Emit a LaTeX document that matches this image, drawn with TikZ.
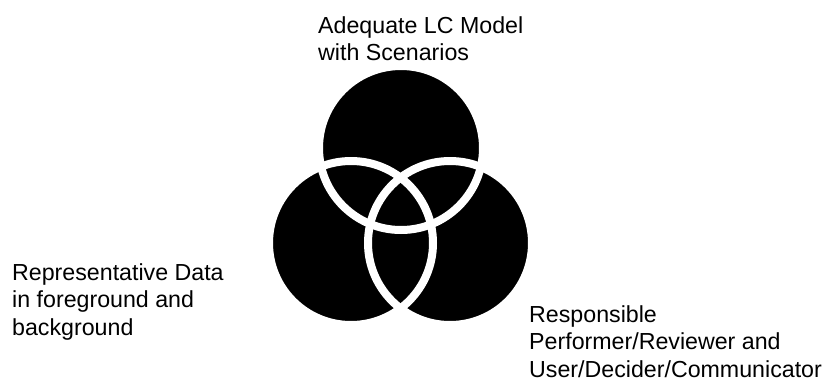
\documentclass[tikz,border=0pt]{standalone}
\usepackage{fontspec}
\setmainfont{Liberation Sans}
\usepackage{tikz}

\begin{document}
\begin{tikzpicture}[x=1pt, y=-1pt]
	
	\tikzstyle{set_fill}=[fill=black]
	\tikzstyle{set_rim}=[draw=white, line width=8pt]
	\tikzstyle{label_node}=[anchor=base west, align=left, inner sep=0pt, font=\fontsize{23.2}{27.5}\selectfont]
	
	\useasboundingbox (0, 0) rectangle (828, 378);
	
	\coordinate (model_center) at (401, 148);
	\coordinate (data_center) at (351, 243);
	\coordinate (people_center) at (450, 243);
	
	\foreach \c in {model_center, data_center, people_center}
		\fill[set_fill] (\c) circle (82pt);
	\foreach \c in {model_center, data_center, people_center}
		\draw[set_rim] (\c) circle (82pt);
	
	% base anchor sits on the last line
	\node[label_node] at (318, 60.5) (model_label) {Adequate LC Model\\with Scenarios};
	\node[label_node] at (12, 335) (data_label) {Representative Data\\in foreground and\\background};
	\node[label_node] at (529, 377) (people_label) {Responsible\\Performer/Reviewer and\\User/Decider/Communicator};
	\end{tikzpicture}
\end{document}
